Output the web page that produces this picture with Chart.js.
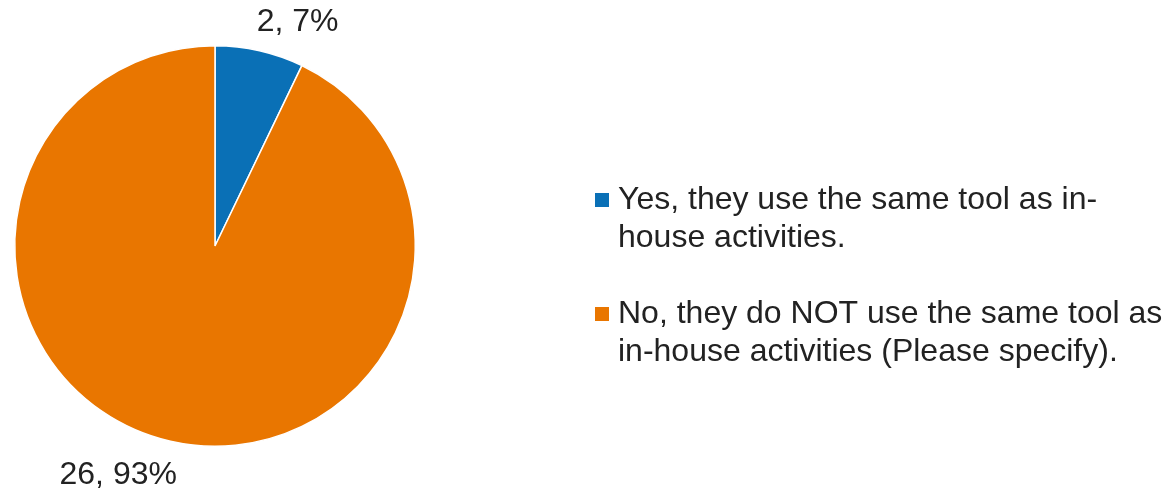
<!DOCTYPE html>
<html>
<head>
<meta charset="utf-8">
<script src="https://cdn.jsdelivr.net/npm/chart.js@4"></script>
<style>
  html, body { margin: 0; padding: 0; background: #fff; }
  #wrap { width: 1175px; height: 495px; position: relative; }
</style>
</head>
<body>
<div id="wrap"><canvas id="pieChart"></canvas></div>
<script>
// chart data
const categories = [
    ['Yes, they use the same tool as in-', 'house activities.'],
    ['No, they do NOT use the same tool as', 'in-house activities (Please specify).']
];
const counts = [2, 26];
const sliceColors = ['#0A70B6', '#E97600'];

const FONT = '"Liberation Sans", Arial, sans-serif';

// value labels outside the slices: "count, pct%"
// Excel's best-fit placement nudges each label a bit clockwise
const labelNudge = [{ turn: 0.128, gap: 39 }, { turn: 0.176, gap: 48 }];

const outsideLabels = {
    id: 'outsideLabels',
    afterDatasetsDraw(chart) {
        const ctx = chart.ctx;
        const meta = chart.getDatasetMeta(0);
        const total = counts.reduce((a, b) => a + b, 0);
        ctx.save();
        ctx.font = '32px ' + FONT;
        ctx.fillStyle = '#222';
        ctx.textAlign = 'center';
        ctx.textBaseline = 'middle';
        meta.data.forEach((arc, i) => {
            const p = arc.getProps(['x', 'y', 'startAngle', 'endAngle', 'outerRadius'], true);
            const ang = (p.startAngle + p.endAngle) / 2 + labelNudge[i].turn;
            const dist = p.outerRadius + labelNudge[i].gap;
            const pct = Math.round(counts[i] / total * 100);
            ctx.fillText(counts[i] + ', ' + pct + '%', p.x + Math.cos(ang) * dist, p.y + Math.sin(ang) * dist + 1);
        });
        ctx.restore();
    }
};

// legend on the right, multi-line entries
const sideLegend = {
    id: 'sideLegend',
    afterDraw(chart) {
        const ctx = chart.ctx;
        const x0 = 595, lineH = 38, itemGap = 38;
        let baseline = 209;
        ctx.save();
        ctx.font = '32px ' + FONT;
        ctx.textAlign = 'left';
        ctx.textBaseline = 'alphabetic';
        categories.forEach((lines, i) => {
            ctx.fillStyle = sliceColors[i];
            ctx.fillRect(x0, baseline - 16, 14, 14);
            ctx.fillStyle = '#222';
            lines.forEach((ln, j) => {
                ctx.fillText(ln, x0 + 23, baseline + j * lineH);
            });
            baseline += lines.length * lineH + itemGap;
        });
        ctx.restore();
    }
};

document.addEventListener('DOMContentLoaded', function() {
    const ctx = document.getElementById('pieChart').getContext('2d');
    new Chart(ctx, {
        type: 'pie',
        data: {
            labels: categories,
            datasets: [{
                data: counts,
                backgroundColor: sliceColors,
                borderColor: '#ffffff',
                borderWidth: 1.5
            }]
        },
        options: {
            responsive: true,
            maintainAspectRatio: false,
            animation: false,
            layout: {
                padding: { left: 14, top: 45, right: 759, bottom: 48 }
            },
            plugins: {
                legend: { display: false },
                tooltip: { enabled: false }
            }
        },
        plugins: [outsideLabels, sideLegend]
    });
});
</script>
</body>
</html>
